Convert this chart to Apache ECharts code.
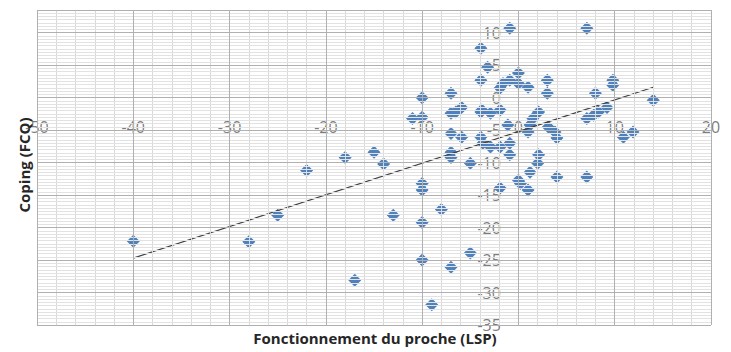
<!DOCTYPE html>
<html>
<head>
<meta charset="utf-8">
<script src="https://cdn.jsdelivr.net/npm/echarts@6/dist/echarts.min.js"></script>
<style>
html,body{margin:0;padding:0;background:#fff;}
#chart{width:731px;height:352px;}
</style>
</head>
<body>
<div id="chart"></div>
<script>
// LSP (x) values
const lspValues = [
  -40, -28, -25, -22, -18, -15, -14, -13, -17, -10,
  -10, -10, -8, -10, -9, -7, -5, -10, -11, -10,
  -7, -7, -5.9, -6.5, -7, -5.9, -7, -7, -5, -3.9,
  -3.9, -3.9, -3.9, -0.9, 7.1, -3.2, -1.9, -1.6, -0.9, 0,
  0, 1, 3, 3, 8, 9.8, 9.8, 14, 9.2, 8.3,
  7.8, 7.1, -3.8, -2.9, -1.9, 1.2, 2.1, 1.5, 1, -1.1,
  3.1, 3.8, 4, 10.9, 11.9, -0.9, -1.9, -0.9, -2.9, -3.7,
  2.1, 2, 1.2, 0, 4, 7.1, -1.9, 0.2, 1
];
// FCQ (y) values
const fcqValues = [
  -22.1, -22.2, -18.1, -11.2, -9.2, -8.4, -10.2, -18.1, -28.1, -13.2,
  -14.2, -19.2, -17.2, -25, -31.9, -26.1, -23.9, 0, -3.2, -3,
  0.7, -2.4, -1.5, -2.2, -5.5, -6.1, -8.4, -9.2, -10.1, 7.6,
  2.7, -2.2, -6.1, 10.7, 10.7, 4.7, 1.5, 2.2, 2.7, 3.8,
  2.2, 1.6, 2.7, 0.7, 0.7, 2.7, 1.9, -0.4, -1.5, -2.2,
  -2.7, -3.2, -1.9, -2.4, -1.9, -4.2, -2.2, -3.2, -5.3, -4.2,
  -4.5, -5.3, -6.2, -6.1, -5.3, -7, -7.6, -8.8, -7.6, -7,
  -8.8, -10.1, -11.5, -12.7, -12.2, -12.2, -13.9, -13.2, -14.2
];
// Linear trendline endpoints
const trendX = [-40, 14];
const trendY = [-24.7, 1.6];
// Tick labels (drawn along the axes that cross at zero)
const xTickLabels = [-50, -40, -30, -20, -10, 0, 10, 20];
const yTickLabels = [10, 5, 0, -5, -10, -15, -20, -25, -30, -35];

const xTitle = 'Fonctionnement du proche (LSP)';
const yTitle = 'Coping (FCQ)';

const X_MIN = -50, X_MAX = 20, Y_MIN = -35, Y_MAX = 13.5;

const points = lspValues.map((x, i) => [x, fcqValues[i]]);
const trend = trendX.map((x, i) => [x, trendY[i]]);
const xTickPts = xTickLabels.map(v => [v, 0]);
const yTickPts = yTickLabels.map(v => [0, v]);

// gridline positions (major every 10 / 5, minor every 2 / 0.5), drawn through the axes' scales
const MAJOR = {color: '#b0b0b0', width: 1, type: 'solid'};
const MINOR_V = {color: '#d9d9d9', width: 1, type: 'solid'};
const MINOR_H = {color: '#e2e2e2', width: 1, type: 'solid'};
const gridMinor = [], gridMajor = [];
for (let k = 0; k <= (X_MAX - X_MIN) / 2; k++) {
  const v = X_MIN + 2 * k;
  if (v % 10 === 0) gridMajor.push({xAxis: v, lineStyle: MAJOR});
  else gridMinor.push({xAxis: v, lineStyle: MINOR_V});
}
for (let k = 0; k <= (Y_MAX - Y_MIN) / 0.5; k++) {
  const v = Y_MIN + 0.5 * k;
  if (v % 5 === 0) gridMajor.push({yAxis: v, lineStyle: MAJOR});
  else gridMinor.push({yAxis: v, lineStyle: MINOR_H});
}
gridMajor.push({yAxis: Y_MAX, lineStyle: MAJOR});

const FONT = '"Open Sans", "Liberation Sans", sans-serif';
const chart = echarts.init(document.getElementById('chart'), null, {renderer: 'svg'});
chart.setOption({
  animation: false,
  grid: {left: 37, right: 20, top: 10, bottom: 27, containLabel: false, outerBoundsMode: 'none'},
  xAxis: {
    type: 'value', min: X_MIN, max: X_MAX, interval: 10,
    axisLine: {show: false, onZero: false},
    axisTick: {show: false},
    axisLabel: {show: false},
    splitLine: {show: true, lineStyle: {color: '#b0b0b0', width: 1}},
    minorTick: {show: false, splitNumber: 5},
    minorSplitLine: {show: true, lineStyle: {color: '#d9d9d9', width: 1}}
  },
  yAxis: {
    type: 'value', min: Y_MIN, max: Y_MAX, interval: 5,
    axisLine: {show: false, onZero: false},
    axisTick: {show: false},
    axisLabel: {show: false},
    splitLine: {show: true, lineStyle: {color: '#b0b0b0', width: 1}},
    minorTick: {show: false, splitNumber: 10},
    minorSplitLine: {show: true, lineStyle: {color: '#e2e2e2', width: 1}}
  },
  series: [
    {
      type: 'line', data: [], z: 0, silent: true,
      markLine: {silent: true, symbol: ['none', 'none'], label: {show: false}, animation: false,
        data: gridMinor.concat(gridMajor)}
    },
    {
      type: 'scatter', data: xTickPts, symbol: 'circle', symbolSize: 1, clip: false, silent: true, z: 1,
      itemStyle: {color: 'rgba(0,0,0,0)'},
      label: {show: true, position: 'bottom', distance: 21, formatter: p => String(p.value[0]),
        color: '#595959', fontSize: 16, fontFamily: FONT}
    },
    {
      type: 'scatter', data: yTickPts, symbol: 'circle', symbolSize: 1, clip: false, silent: true, z: 1,
      itemStyle: {color: 'rgba(0,0,0,0)'},
      label: {show: true, position: 'left', distance: 17, formatter: p => String(p.value[1]),
        color: '#595959', fontSize: 16, fontFamily: FONT}
    },
    {
      type: 'scatter', data: points, symbol: 'diamond', symbolSize: 13, z: 2,
      itemStyle: {color: '#4F81BD', opacity: 1}
    },
    {
      type: 'line', data: trend, showSymbol: false, symbol: 'none', z: 3,
      lineStyle: {color: '#404040', width: 1.2}, silent: true
    }
  ],
  graphic: [
    {type: 'text', x: 375, y: 338,
      style: {text: xTitle, font: 'bold 15px ' + FONT, fill: '#262626',
        textAlign: 'center', textVerticalAlign: 'middle', align: 'center', verticalAlign: 'middle'}},
    {type: 'text', x: 24, y: 165, rotation: Math.PI / 2,
      style: {text: yTitle, font: 'bold 15px ' + FONT, fill: '#262626',
        textAlign: 'center', textVerticalAlign: 'middle', align: 'center', verticalAlign: 'middle'}}
  ]
});
</script>
</body>
</html>
